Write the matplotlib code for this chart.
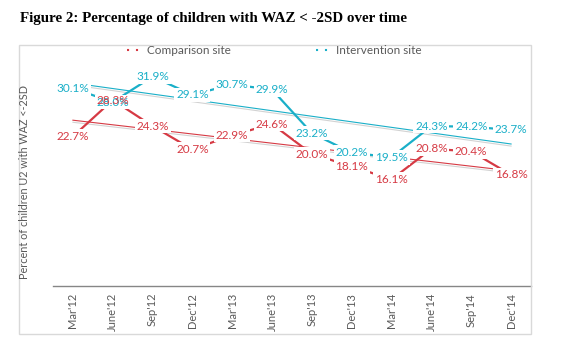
import numpy as np
import matplotlib
matplotlib.use('Agg')
import matplotlib.pyplot as plt
import matplotlib.patheffects as pe
from matplotlib.lines import Line2D
from matplotlib.patches import Rectangle

periods = ["Mar'12", "June'12", "Sep'12", "Dec'12", "Mar'13", "June'13",
           "Sep'13", "Dec'13", "Mar'14", "June'14", "Sep'14", "Dec'14"]
comparison = [22.7, 28.3, 24.3, 20.7, 22.9, 24.6, 20.0, 18.1, 16.1, 20.8, 20.4, 16.8]
intervention = [30.1, 28.0, 31.9, 29.1, 30.7, 29.9, 23.2, 20.2, 19.5, 24.3, 24.2, 23.7]

red = '#d63a44'
blue = '#1aafc8'
grey_txt = '#595959'
font = 'Lato'

fig = plt.figure(figsize=(5.71, 3.57), dpi=100)
W, H = 571, 357

# outer chart frame
fig.patches.append(Rectangle((19/W, 1 - 334/H), (531 - 19)/W, (334 - 45)/H,
                             transform=fig.transFigure, fill=False,
                             edgecolor='#d9d9d9', lw=1))

fig.text(20/W, 1 - 22/H, 'Figure 2: Percentage of children with WAZ < -2SD over time',
         fontfamily='Liberation Serif', fontweight='bold', fontsize=10.8, va='baseline')

ax = fig.add_axes([53/W, 1 - 286/H, (531 - 53)/W, (286 - 56.5)/H])
x = np.arange(len(periods))

# linear trend lines with a soft shadow
shadow = [pe.SimpleLineShadow(offset=(0, -1.5), shadow_color='grey', alpha=0.35), pe.Normal()]
for vals, col in [(comparison, red), (intervention, blue)]:
    k, b = np.polyfit(x, vals, 1)
    ax.plot([x[0], x[-1]], [b, k*x[-1] + b], color=col, lw=0.8, zorder=1,
            path_effects=shadow)

ax.plot(x, intervention, color=blue, lw=1.6, zorder=2)
ax.plot(x, comparison, color=red, lw=1.6, zorder=2)

box = dict(boxstyle='square,pad=0.15', fc='white', ec='none')
for i, v in enumerate(intervention):
    ax.text(x[i], v, '%.1f%%' % v, color=blue, fontsize=8.5, fontfamily=font,
            ha='center', va='center', bbox=box, zorder=3)
for i, v in enumerate(comparison):
    ax.text(x[i], v, '%.1f%%' % v, color=red, fontsize=8.5, fontfamily=font,
            ha='center', va='center', bbox=None if i == 1 else box, zorder=3)

ax.set_xlim(-0.5, len(periods) - 0.5)
ax.set_ylim(-0.3, 35)
ax.set_xticks(x)
ax.set_xticklabels(periods, rotation=90, fontsize=8, fontfamily=font, color=grey_txt)
ax.set_yticks([])
ax.tick_params(axis='x', length=0, pad=5)
for s in ['left', 'top', 'right']:
    ax.spines[s].set_visible(False)
ax.spines['bottom'].set_color('#868686')
ax.spines['bottom'].set_linewidth(1)

fig.text(25/W, 1 - 182/H, 'Percent of children U2 with WAZ <-2SD', rotation=90,
         fontsize=7.8, fontfamily=font, color=grey_txt, ha='center', va='center')

handles = [Line2D([], [], color=red, lw=1.5, ls=(0, (1, 3.3))),
           Line2D([], [], color=blue, lw=1.5, ls=(0, (1, 3.3)))]
leg = fig.legend(handles, ['Comparison site', 'Intervention site'], ncol=2,
                 loc='center', bbox_to_anchor=(274/W, 1 - 51/H), frameon=False,
                 handlelength=1.2, handletextpad=0.5, columnspacing=7.2,
                 prop={'family': font, 'size': 8.5})
for t in leg.get_texts():
    t.set_color(grey_txt)

fig.savefig('out.png', dpi=100)
